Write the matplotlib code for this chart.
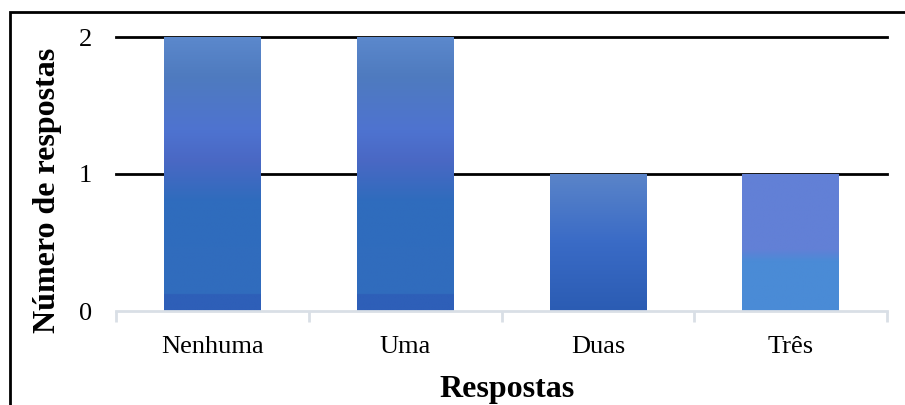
import matplotlib
matplotlib.use("Agg")
import matplotlib.pyplot as plt
import numpy as np
from matplotlib.colors import LinearSegmentedColormap
from matplotlib.patches import Rectangle

categories = ["Nenhuma", "Uma", "Duas", "Três"]
counts = [2, 2, 1, 1]
y_ticks = [0, 1, 2]
y_label = "Número de respostas"
x_label = "Respostas"

# vertical colour stops for each bar (position from bottom, colour)
gradients = [
    [(0.0, "#2e5fb8"), (0.058, "#2e5fb8"), (0.062, "#316cbd"), (0.40, "#2f6cbd"),
     (0.55, "#4a68c4"), (0.66, "#4e73d0"), (0.86, "#4f7bbf"), (1.0, "#5b88cc")],
    [(0.0, "#2e5fb8"), (0.058, "#2e5fb8"), (0.062, "#316cbd"), (0.40, "#2f6cbd"),
     (0.55, "#4a68c4"), (0.66, "#4e73d0"), (0.86, "#4f7bbf"), (1.0, "#5b88cc")],
    [(0.0, "#2b5cb3"), (0.5, "#3a6bc6"), (1.0, "#5a84c9")],
    [(0.0, "#4a8bd6"), (0.36, "#4a8bd6"), (0.45, "#6280d6"), (1.0, "#6280d6")],
]

plt.rcParams["font.family"] = ["Liberation Serif", "DejaVu Serif"]

W, H = 905, 405
fig = plt.figure(figsize=(W / 100, H / 100), dpi=100)
ax = fig.add_axes([116 / W, (H - 311) / H, (887 - 116) / W, (311 - 37) / H])

x = np.arange(len(categories))
bars = ax.bar(x, counts, width=0.5, facecolor="none", edgecolor="none", zorder=3)
for bar, stops in zip(bars, gradients):
    cmap = LinearSegmentedColormap.from_list("g", stops)
    grad = np.linspace(0, 1, 400).reshape(-1, 1)
    bx, by = bar.get_x(), bar.get_y()
    bw, bh = bar.get_width(), bar.get_height()
    im = ax.imshow(grad, cmap=cmap, origin="lower", aspect="auto",
                   extent=[bx, bx + bw, by, by + bh], zorder=3,
                   interpolation="bilinear")
    im.set_clip_path(bar)

ax.set_xlim(-0.5, len(categories) - 0.5)
ax.set_ylim(0, 2)

for yv in y_ticks[1:]:
    ax.axhline(yv, color="black", lw=2, zorder=2, clip_on=False)

for s in ["top", "right", "left"]:
    ax.spines[s].set_visible(False)
ax.spines["bottom"].set_color("#d9dfe6")
ax.spines["bottom"].set_linewidth(2)
ax.spines["bottom"].set_zorder(4)

ax.set_yticks(y_ticks)
ax.set_yticklabels([str(v) for v in y_ticks], fontsize=19)
ax.tick_params(axis="y", length=0, pad=17)

ax.set_xticks(x)
ax.set_xticklabels(categories, fontsize=19)
ax.tick_params(axis="x", which="major", length=0, pad=18)
ax.set_xticks(np.arange(-0.5, len(categories)), minor=True)
ax.tick_params(axis="x", which="minor", length=8, width=2, color="#d9dfe6")

fig.text(47 / W, (H - 190) / H, y_label, rotation=90, fontsize=23,
         fontweight="bold", ha="center", va="center")
fig.text(507 / W, (H - 390) / H, x_label, fontsize=23, fontweight="bold",
         ha="center", va="center")

# outer frame around the chart area
fig.patches.append(Rectangle((9.5 / W, -0.2), 1.2, (H - 11.5) / H + 0.2,
                             transform=fig.transFigure, fill=False,
                             edgecolor="black", lw=2, clip_on=False))

fig.savefig("out.png", dpi=100)
